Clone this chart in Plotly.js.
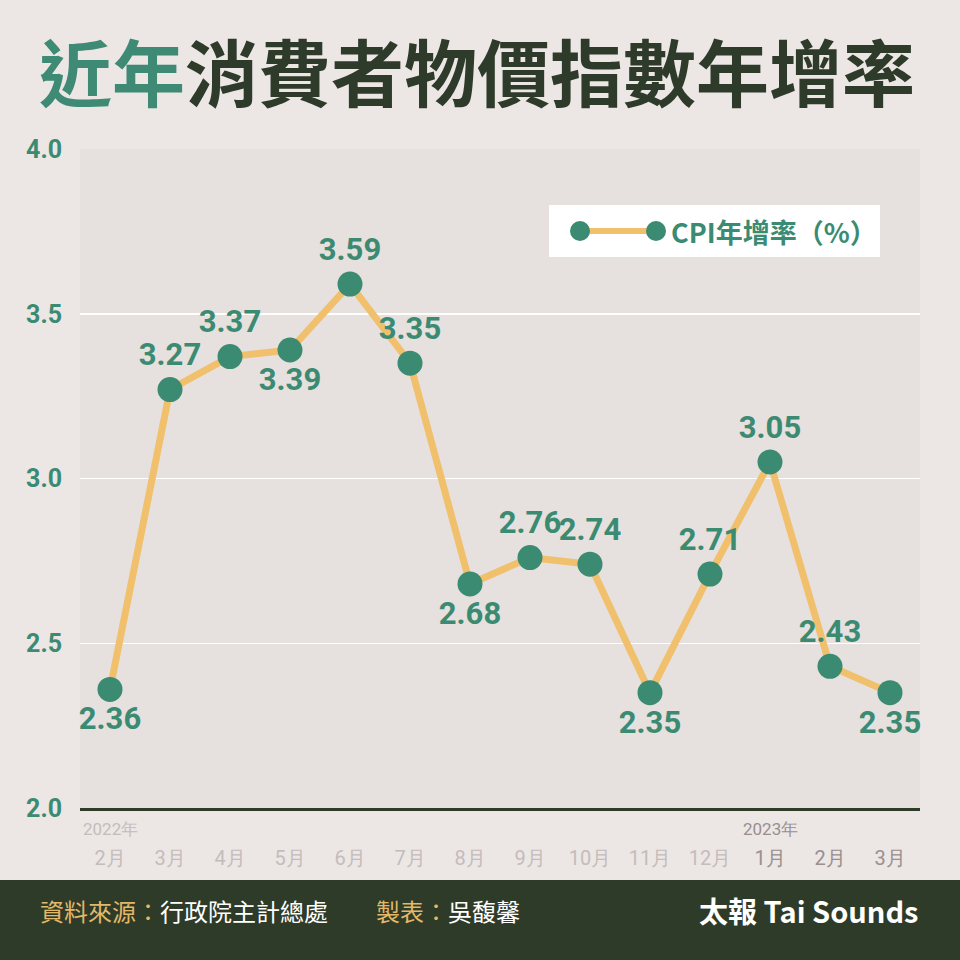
<!DOCTYPE html>
<html><head><meta charset="utf-8">
<script src="https://cdn.plot.ly/plotly-3.0.1.min.js"></script>
<style>html,body{margin:0;padding:0;background:#ece6e5;}#c{width:960px;height:960px;}</style>
</head><body><div id="c"></div>
<script>
const months = ["2月","3月","4月","5月","6月","7月","8月","9月","10月","11月","12月","1月","2月","3月"];
const years = ["2022","2022","2022","2022","2022","2022","2022","2022","2022","2022","2022","2023","2023","2023"];
const cpi = [2.36,3.27,3.37,3.39,3.59,3.35,2.68,2.76,2.74,2.35,2.71,3.05,2.43,2.35];
const labelPos = ["bottom","top","top","bottom","top","top","bottom","top","top","bottom","top","top","top","bottom"];
const yTicks = [2.0,2.5,3.0,3.5,4.0];
const yearLabels = [{idx:0,text:"2022年"},{idx:11,text:"2023年"}];

const teal = "#3b8a72", gold = "#f1c06c", dark = "#2e3b29";
const numFont = "Roboto,'DejaVu Sans',sans-serif";
const cjk = "'Noto Sans CJK TC','Noto Sans',sans-serif";
const xs = months.map((m,i)=>i);

const trace = {
  x: xs, y: cpi, type: "scatter", mode: "lines+markers+text",
  line: {color: gold, width: 7},
  marker: {color: teal, size: 25},
  text: cpi.map(v=>v.toFixed(2)),
  textposition: labelPos.map(p=>p+" center"),
  textfont: {family: numFont, size: 31, color: teal, weight: 700},
  cliponaxis: false, hoverinfo: "skip", name: "CPI年增率(%)", showlegend: false
};

const H = 659; // plot height px
const py = px => (808 - px) / H;

const annotations = [];
yearLabels.forEach(o=>annotations.push({x:o.idx, xref:"x", y:py(829), yref:"paper", text:o.text, showarrow:false,
  font:{family:numFont, size:17, color: o.idx>10?"#9a8e8e":"#c4bcbb"}, xanchor:"center", yanchor:"middle"}));
annotations.push({x:-42/840, xref:"paper", y:py(910), yref:"paper", xanchor:"left", yanchor:"middle", showarrow:false,
  text:"<span style='color:#e3b866'>資料來源：</span>行政院主計總處　　<span style='color:#e3b866'>製表：</span>吳馥馨",
  font:{family:cjk, size:24, color:"#ffffff"}});
annotations.push({x:1, xref:"paper", y:py(910), yref:"paper", xanchor:"right", yanchor:"middle", showarrow:false,
  text:"<b>太報 Tai Sounds</b>", font:{family:cjk, size:29, color:"#ffffff"}});
// legend text
annotations.push({x:(669-80)/840, xref:"paper", y:py(231), yref:"paper", xanchor:"left", yanchor:"middle", showarrow:false,
  text:"<b>CPI年增率（%）</b>", font:{family:cjk, size:27, color:teal}});

const shapes = [
  {type:"rect", xref:"paper", yref:"paper", x0:-1, x1:2, y0:py(880), y1:py(962), fillcolor:dark, line:{width:0}, layer:"below"},
  {type:"rect", xref:"paper", yref:"paper", x0:(549-80)/840, x1:(880-80)/840, y0:py(257), y1:py(205), fillcolor:"#ffffff", line:{width:0}},
  {type:"line", xref:"paper", yref:"paper", x0:(580-80)/840, x1:(656-80)/840, y0:py(231), y1:py(231), line:{color:gold, width:6}},
  {type:"circle", xref:"paper", yref:"paper", x0:(570-80)/840, x1:(590-80)/840, y0:py(241), y1:py(221), fillcolor:teal, line:{width:0}},
  {type:"circle", xref:"paper", yref:"paper", x0:(646-80)/840, x1:(666-80)/840, y0:py(241), y1:py(221), fillcolor:teal, line:{width:0}}
];

const layout = {
  width: 960, height: 960,
  paper_bgcolor: "#ece6e5", plot_bgcolor: "#e6e0de",
  margin: {l:80, r:40, t:149, b:152, pad:0},
  title: {text: "<b><span style='color:#3e8a74'>近年</span>消費者物價指數年增率</b>", x:477/960, xanchor:"center", xref:"container", y:1-75/960, yanchor:"middle",
    font:{family:cjk, size:73, color:"#2e3b2a"}},
  xaxis: {range:[-0.5,13.5], tickvals: xs,
    ticktext: months.map((m,i)=> years[i]==="2023" ? "<span style='color:#9a8e8e'>"+m+"</span>" : m),
    tickfont:{family:numFont, size:20, color:"#c4bcbb"}, showgrid:false, zeroline:false,
    showline:true, linecolor:dark, linewidth:3, ticks:"outside", ticklen:30, tickcolor:"rgba(0,0,0,0)", fixedrange:true},
  yaxis: {range:[2,4], tickvals:yTicks, ticktext: yTicks.map(v=>v.toFixed(1)),
    tickfont:{family:numFont, size:25, color:teal, weight:700}, showgrid:true, gridcolor:"#ffffff", gridwidth:1.5,
    zeroline:false, showline:false, ticks:"outside", ticklen:12, tickcolor:"rgba(0,0,0,0)", fixedrange:true},
  showlegend:false, annotations, shapes
};
Plotly.newPlot("c", [trace], layout, {displayModeBar:false, staticPlot:true});
</script></body></html>
